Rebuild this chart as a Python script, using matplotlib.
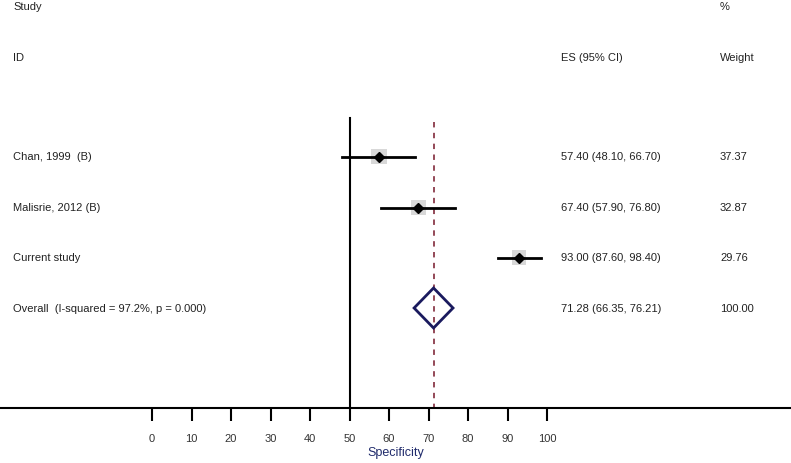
import matplotlib.pyplot as plt
from matplotlib.patches import Polygon

plt.rcParams['font.family'] = ['Liberation Sans', 'DejaVu Sans']

# ── Data ───────────────────────────────────────────────────
studies   = ["Chan, 1999  (B)", "Malisrie, 2012 (B)", "Current study"]
es        = [57.40, 67.40, 93.00]
lo        = [48.10, 57.90, 87.60]
hi        = [66.70, 76.80, 98.40]
weights   = [37.37, 32.87, 29.76]
overall_label = "Overall  (I-squared = 97.2%, p = 0.000)"
overall   = 71.28
overall_lo = 66.35
overall_hi = 76.21
overall_w = 100.00
null_value = 50
xticks = list(range(0, 101, 10))

# ── Figure / axes (y in pixel rows, x in data units) ──────
W, H = 791, 464
fig = plt.figure(figsize=(W / 100, H / 100), dpi=100)
ax = fig.add_axes([0, (H - 409) / H, 1, 409 / H])
px_per_unit = 3.95
x0 = 152
ax.set_xlim(-x0 / px_per_unit, (W - x0) / px_per_unit)
ax.set_ylim(409, 0)
for s in ["top", "left", "right"]:
    ax.spines[s].set_visible(False)
ax.spines["bottom"].set_linewidth(1.5)
ax.set_yticks([])
ax.set_xticks(xticks)
ax.set_xticklabels([str(t) for t in xticks], fontsize=8, color="#333333")
ax.tick_params(axis="x", direction="out", length=9, width=1.5, pad=9)
ax.set_xlabel("Specificity", fontsize=9, color="#1f2a6b", labelpad=2)

rows = [157.5, 208.5, 258.5]
row_overall = 309

# null line and overall dashed line
ax.plot([null_value, null_value], [119, 409], color="black", lw=1.5)
ax.plot([overall, overall], [123, 409], color="#8b3a4a", lw=1.3,
        dashes=(3, 3))

# study rows
for y, e, l, h, w in zip(rows, es, lo, hi, weights):
    ax.plot([l, h], [y, y], color="black", lw=2, zorder=3)
    box = 1.0 + w / 37.37 * 1.0
    ax.fill_between([e - box, e + box], y - box * 3.95, y + box * 3.95,
                    color="#d8d8d8", zorder=2, lw=0)
    ax.plot(e, y, marker="D", color="black", ms=5, zorder=4)

# overall diamond
dia = Polygon([[overall_lo, row_overall], [overall, row_overall - 20],
               [overall_hi, row_overall], [overall, row_overall + 20]],
              closed=True, fill=False, edgecolor="#1a1a5e", lw=2, zorder=4)
ax.add_patch(dia)

# ── Text columns ───────────────────────────────────────────
def px(xp):
    return (xp - x0) / px_per_unit

fs = 8
ax.text(px(13), 7, "Study", fontsize=fs, va="center", color="#222222")
ax.text(px(720), 7, "%", fontsize=fs, va="center", color="#222222")
ax.text(px(13), 58, "ID", fontsize=fs, va="center", color="#222222")
ax.text(px(561), 58, "ES (95% CI)", fontsize=fs, va="center", color="#222222")
ax.text(px(720), 58, "Weight", fontsize=fs, va="center", color="#222222")

for y, name, e, l, h, w in zip(rows, studies, es, lo, hi, weights):
    ax.text(px(13), y, name, fontsize=fs, va="center", color="#222222")
    ax.text(px(561), y, f"{e:.2f} ({l:.2f}, {h:.2f})", fontsize=fs,
            va="center", color="#222222")
    ax.text(px(720), y, f"{w:.2f}", fontsize=fs, va="center", color="#222222")

ax.text(px(13), row_overall, overall_label, fontsize=fs, va="center",
        color="#222222")
ax.text(px(561), row_overall,
        f"{overall:.2f} ({overall_lo:.2f}, {overall_hi:.2f})", fontsize=fs,
        va="center", color="#222222")
ax.text(px(720), row_overall, f"{overall_w:.2f}", fontsize=fs, va="center",
        color="#222222")

fig.savefig("out.png", dpi=100)
